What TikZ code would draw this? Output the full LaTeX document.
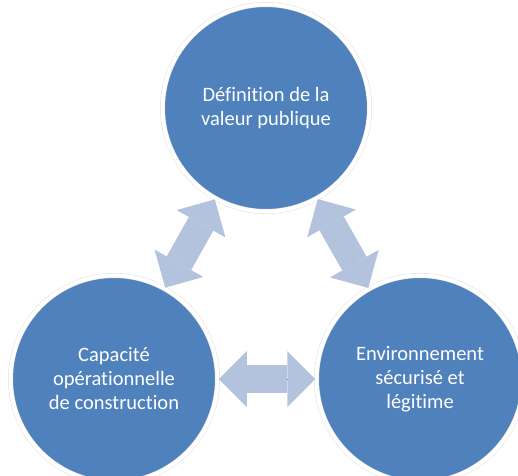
\documentclass[tikz,border=0pt]{standalone}
\usepackage{fontspec}
\setmainfont{Carlito}[Ligatures=NoCommon]
\usetikzlibrary{arrows.meta}
\definecolor{bubbleblue}{HTML}{4F81BD}
\definecolor{arrowblue}{HTML}{B3C3DD}
\begin{document}
\begin{tikzpicture}[x=1pt, y=-1pt,
  bubble/.style={circle, fill=bubbleblue, draw=black!12, line width=0.5pt,
    double=white, double distance=4pt, minimum size=207pt, inner sep=0pt,
    align=center, text=white, font=\fontsize{20.5}{24}\selectfont},
  linkarrow/.style={arrowblue, line width=28pt, shorten <=1pt, shorten >=1pt,
    preaction={draw, arrows=-, shorten <=22pt, shorten >=22pt},
    {Triangle[length=28pt, width=56pt, line width=0pt]}-{Triangle[length=28pt, width=56pt, line width=0pt]}}]
  \useasboundingbox (0,0) rectangle (518,475);

  % Define circles
  \node[bubble] (valeur) at (266,108) {Définition de la\\valeur publique};
  \node[bubble] (capacite) at (114,379) {Capacité\\opérationnelle\\de construction};
  \node[bubble] (environ) at (420,379) {Environnement\\sécurisé et\\légitime};

  % Draw arrows
  \draw[linkarrow] (valeur) -- (capacite);
  \draw[linkarrow] (valeur) -- (environ);
  \draw[linkarrow] (capacite) -- (environ);
\end{tikzpicture}
\end{document}
